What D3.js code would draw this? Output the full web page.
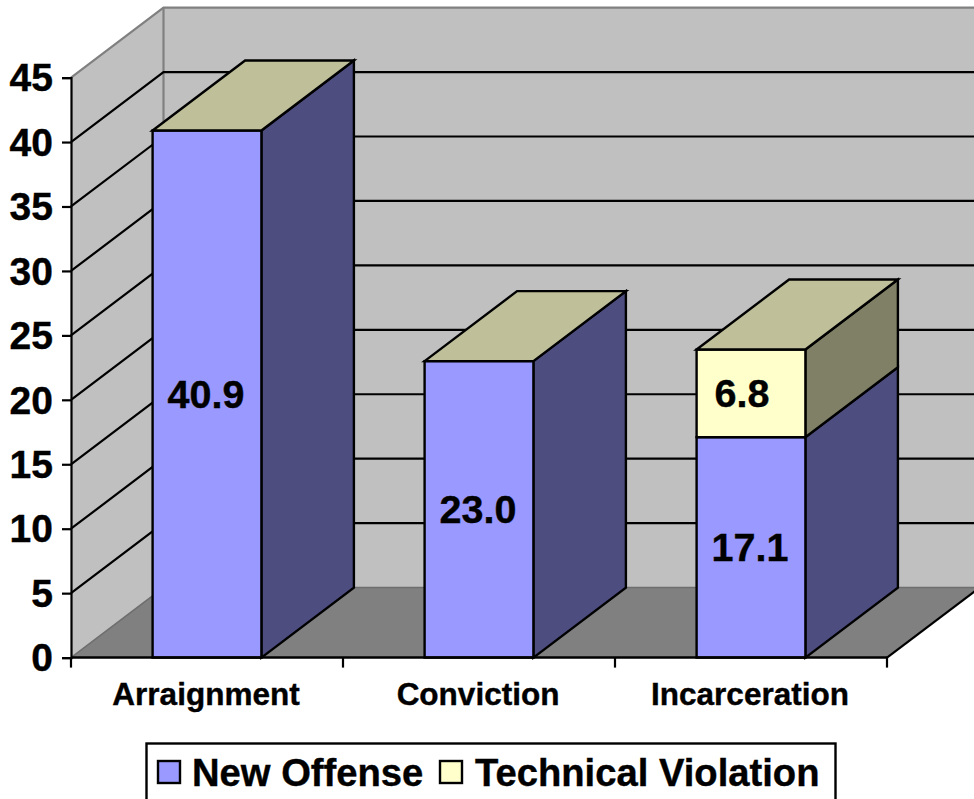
<!DOCTYPE html>
<html>
<head>
<meta charset="utf-8">
<script src="https://cdn.jsdelivr.net/npm/d3@7"></script>
<style>
  html, body { margin: 0; padding: 0; background: #fff; overflow: hidden; }
  svg { display: block; }
  text { font-family: "Liberation Sans", Arial, sans-serif; font-weight: bold; fill: #000; stroke: #000; stroke-width: 0.4px; }
</style>
</head>
<body>
<svg id="chart" width="974" height="799"></svg>
<script>
// Chart values
const categories = ["Arraignment", "Conviction", "Incarceration"];
const seriesNames = ["New Offense", "Technical Violation"];
const newOffense = [40.9, 23.0, 17.1];
const technicalViolation = [0, 0, 6.8];
const yTicks = [0, 5, 10, 15, 20, 25, 30, 35, 40, 45];

// Palette: front, side and top faces per series
const frontFill = ["#9999ff", "#ffffcc"];
const sideFill = ["#4d4d80", "#808066"];
const topFill = "#bfbf99";

const svg = d3.select("#chart");
const W = 974, H = 799;
const depthX = 92.5, depthY = 70;

const y = d3.scaleLinear().domain([0, 45]).range([657.6, 77.6]);
const x = d3.scaleBand().domain(categories).range([71, 887]).paddingInner(0.6).paddingOuter(0.3);
const plotLeft = x.range()[0], plotRight = x.range()[1];

const rows = categories.map((c, i) => ({ category: c, [seriesNames[0]]: newOffense[i], [seriesNames[1]]: technicalViolation[i] }));
const stacked = d3.stack().keys(seriesNames)(rows);

const poly = pts => pts.map(p => p.join(",")).join(" ");
const clipId = "plot-clip";
svg.append("clipPath").attr("id", clipId).append("rect").attr("width", W).attr("height", H);
const plot = svg.append("g").attr("clip-path", `url(#${clipId})`);

// Back wall, side wall and floor
plot.append("polygon")
  .attr("points", poly([[plotLeft + depthX, y(45) - depthY], [plotRight + depthX, y(45) - depthY], [plotRight + depthX, y(0) - depthY], [plotLeft + depthX, y(0) - depthY]]))
  .attr("fill", "#c0c0c0");
plot.append("polygon")
  .attr("points", poly([[plotLeft, y(45)], [plotLeft + depthX, y(45) - depthY], [plotLeft + depthX, y(0) - depthY], [plotLeft, y(0)]]))
  .attr("fill", "#c0c0c0");
plot.append("polygon")
  .attr("points", poly([[plotLeft, y(0)], [plotLeft + depthX, y(0) - depthY], [plotRight + depthX, y(0) - depthY], [plotRight, y(0)]]))
  .attr("fill", "#808080");

// Grey outline of the walls
plot.append("polyline")
  .attr("points", poly([[plotLeft, y(45)], [plotLeft + depthX, y(45) - depthY], [plotRight + depthX, y(45) - depthY]]))
  .attr("fill", "none").attr("stroke", "#808080").attr("stroke-width", 2.2);
plot.append("line")
  .attr("x1", plotLeft + depthX).attr("x2", plotLeft + depthX)
  .attr("y1", y(45) - depthY).attr("y2", y(0) - depthY)
  .attr("stroke", "#808080").attr("stroke-width", 2.2);
plot.append("polyline")
  .attr("points", poly([[plotLeft, y(0)], [plotLeft + depthX, y(0) - depthY], [plotRight + depthX, y(0) - depthY]]))
  .attr("fill", "none").attr("stroke", "#6e6e6e").attr("stroke-width", 1.5);

// Gridlines run along the side wall and across the back wall
plot.append("g").selectAll("polyline")
  .data(yTicks.filter(t => t > 0 && t < 45))
  .join("polyline")
  .attr("points", t => poly([[plotLeft, y(t)], [plotLeft + depthX, y(t) - depthY], [plotRight + depthX, y(t) - depthY]]))
  .attr("fill", "none").attr("stroke", "#000").attr("stroke-width", 2.2);

// Floor edge on the right
plot.append("line")
  .attr("x1", plotRight).attr("y1", y(0))
  .attr("x2", plotRight + depthX).attr("y2", y(0) - depthY)
  .attr("stroke", "#000").attr("stroke-width", 2.2);

// Stacked 3D bars
const faceStroke = sel => sel.attr("stroke", "#000").attr("stroke-width", 2.4).attr("stroke-linejoin", "miter");
stacked.forEach((layer, li) => {
  const g = plot.append("g");
  layer.forEach((d, i) => {
    if (d[1] - d[0] <= 0) return;
    const x0 = x(categories[i]), x1 = x0 + x.bandwidth();
    const yb = y(d[0]), yt = y(d[1]);
    g.append("polygon")
      .attr("points", poly([[x1, yt], [x1 + depthX, yt - depthY], [x1 + depthX, yb - depthY], [x1, yb]]))
      .attr("fill", sideFill[li]).call(faceStroke);
    g.append("rect")
      .attr("x", x0).attr("y", yt).attr("width", x1 - x0).attr("height", yb - yt)
      .attr("fill", frontFill[li]).call(faceStroke);
  });
});

// Top cap sits on the highest visible segment of each bar
categories.forEach((c, i) => {
  const total = newOffense[i] + technicalViolation[i];
  const x0 = x(c), x1 = x0 + x.bandwidth(), yt = y(total);
  plot.append("polygon")
    .attr("points", poly([[x0, yt], [x0 + depthX, yt - depthY], [x1 + depthX, yt - depthY], [x1, yt]]))
    .attr("fill", topFill).call(faceStroke);
});

// Value labels
stacked.forEach((layer, li) => {
  layer.forEach((d, i) => {
    if (d[1] - d[0] <= 0) return;
    const value = d[1] - d[0];
    plot.append("text")
      .attr("x", x(categories[i]) + x.bandwidth() / 2 + (value < 10 ? -9 : -1))
      .attr("y", (y(d[0]) + y(d[1])) / 2 + 14)
      .attr("text-anchor", "middle")
      .attr("font-size", 39.5)
      .text(value.toFixed(1));
  });
});

// Value axis
const yAxis = svg.append("g")
  .attr("transform", `translate(${plotLeft},0)`)
  .call(d3.axisLeft(y).tickValues(yTicks).tickSize(9).tickPadding(9).tickFormat(d3.format("d")));
yAxis.selectAll("path, line").attr("stroke", "#000").attr("stroke-width", 2.2);
yAxis.selectAll("text").attr("font-size", 39).attr("font-family", null).attr("dy", "0.34em").attr("fill", "#000");

// Category axis: labels at band centres, ticks on the band boundaries
const xAxis = svg.append("g")
  .attr("transform", `translate(0,${y(0)})`)
  .call(d3.axisBottom(x).tickSize(0).tickPadding(25));
xAxis.select(".domain").attr("stroke", "#000").attr("stroke-width", 2.5).attr("d", `M${plotLeft},0H${plotRight}`);
xAxis.selectAll("text").attr("font-size", 31.5).attr("font-family", null).attr("fill", "#000").attr("dx", -1);
xAxis.selectAll(".boundary")
  .data(d3.range(categories.length + 1))
  .join("line")
  .attr("class", "boundary")
  .attr("x1", i => plotLeft + i * (plotRight - plotLeft) / categories.length)
  .attr("x2", i => plotLeft + i * (plotRight - plotLeft) / categories.length)
  .attr("y1", 0).attr("y2", 10)
  .attr("stroke", "#000").attr("stroke-width", 2.2);

// Legend
const legend = svg.append("g");
legend.append("rect")
  .attr("x", 146.5).attr("y", 743.5).attr("width", 689).attr("height", 60)
  .attr("fill", "#fff").attr("stroke", "#000").attr("stroke-width", 2.4);
const legendSwatchX = [158, 440], legendTextX = [192, 475];
seriesNames.forEach((name, i) => {
  legend.append("rect")
    .attr("x", legendSwatchX[i]).attr("y", 761).attr("width", 22).attr("height", 22)
    .attr("fill", frontFill[i]).attr("stroke", "#000").attr("stroke-width", 2.4);
  legend.append("text")
    .attr("x", legendTextX[i]).attr("y", 786)
    .attr("font-size", 38.2)
    .text(name);
});
</script>
</body>
</html>
